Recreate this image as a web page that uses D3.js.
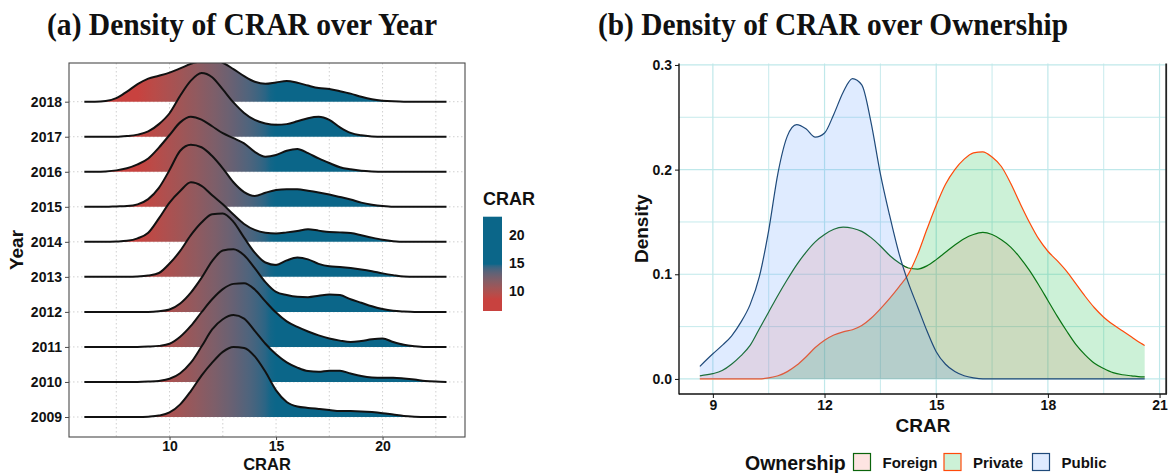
<!DOCTYPE html>
<meta charset="utf-8">
<title>Density of CRAR</title>
<script src="https://d3js.org/d3.v7.min.js"></script>
<style>
  body { margin: 0; background: #fff; }
  text { font-family: "Liberation Sans", Arial, sans-serif; font-weight: bold; fill: #111; }
  .title { font-family: "Liberation Serif", "Times New Roman", serif; }
</style>
<div id="chart"></div>
<script>

// ---------- data: panel (a), ridge heights in row units (1 = spacing between years) ----------
var years = [2009, 2010, 2011, 2012, 2013, 2014, 2015, 2016, 2017, 2018];
var ridgeGrid = [6, 6.5, 7, 7.5, 8, 8.5, 9, 9.5, 10, 10.5, 11, 11.5, 12, 12.5, 13, 13.5, 14, 14.5,
                 15, 15.5, 16, 16.5, 17, 17.5, 18, 18.5, 19, 19.5, 20, 20.5, 21, 21.5, 22, 22.5, 23];
var h2009 = [0,0,0,0,0,0,0.01,0.04,0.13,0.36,0.74,1.18,1.55,1.86,2.0,1.97,1.73,1.29,0.76,0.43,0.30,0.26,0.23,0.20,0.17,0.17,0.16,0.14,0.11,0.07,0.03,0.01,0,0,0];
var h2010 = [0,0,0,0,0,0,0.01,0.03,0.09,0.25,0.55,1.01,1.50,1.79,1.91,1.81,1.46,1.09,0.79,0.56,0.41,0.31,0.29,0.32,0.32,0.24,0.17,0.13,0.12,0.12,0.10,0.07,0.03,0.01,0];
var h2011 = [0,0,0,0,0,0,0.01,0.03,0.09,0.29,0.60,0.99,1.36,1.65,1.80,1.82,1.64,1.30,0.98,0.73,0.57,0.44,0.33,0.24,0.18,0.14,0.17,0.22,0.24,0.14,0.06,0.02,0,0,0];
var h2012 = [0,0,0,0,0,0,0,0.02,0.07,0.24,0.55,0.97,1.45,1.75,1.79,1.62,1.25,0.85,0.57,0.48,0.43,0.42,0.46,0.50,0.48,0.36,0.26,0.16,0.08,0.03,0.01,0,0,0,0];
var h2013 = [0,0,0,0,0,0.01,0.04,0.11,0.38,0.74,1.19,1.55,1.79,1.81,1.57,1.12,0.69,0.41,0.34,0.47,0.55,0.50,0.37,0.30,0.28,0.25,0.21,0.16,0.10,0.05,0.01,0,0,0,0];
var h2014 = [0,0,0,0.01,0.03,0.10,0.26,0.67,1.12,1.45,1.70,1.60,1.33,1.07,0.78,0.51,0.34,0.26,0.24,0.27,0.31,0.36,0.32,0.28,0.27,0.25,0.19,0.12,0.06,0.02,0,0,0,0,0];
var h2015 = [0,0,0,0.01,0.02,0.07,0.22,0.54,1.05,1.60,1.77,1.70,1.45,1.10,0.70,0.42,0.31,0.40,0.48,0.50,0.50,0.46,0.41,0.35,0.28,0.21,0.12,0.06,0.02,0,0,0,0,0,0];
var h2016 = [0,0,0.01,0.04,0.10,0.21,0.38,0.69,1.05,1.41,1.57,1.49,1.30,1.10,0.96,0.81,0.57,0.43,0.48,0.60,0.65,0.53,0.38,0.25,0.13,0.07,0.03,0.01,0,0,0,0,0,0,0];
var h2017 = [0,0,0,0,0.02,0.06,0.15,0.36,0.67,1.17,1.60,1.82,1.70,1.35,0.98,0.68,0.48,0.38,0.34,0.36,0.44,0.53,0.57,0.48,0.27,0.11,0.04,0.01,0,0,0,0,0,0,0];
var h2018 = [0,0,0.02,0.10,0.29,0.50,0.66,0.74,0.83,0.95,1.08,1.16,1.20,1.11,0.93,0.73,0.57,0.51,0.55,0.59,0.54,0.46,0.39,0.36,0.30,0.23,0.14,0.07,0.03,0.01,0,0,0,0,0];
var ridgeTicks = [10, 15, 20];
var colorbarTicks = [10, 15, 20];

// ---------- data: panel (b), densities ----------
var ownership = ["Foreign", "Private", "Public"];
var densGrid = [8.65, 9, 9.25, 9.5, 9.75, 10, 10.25, 10.5, 10.75, 11, 11.25, 11.5, 11.75, 12, 12.25, 12.5,
                12.75, 13, 13.25, 13.5, 13.75, 14, 14.25, 14.5, 14.75, 15, 15.25, 15.5, 15.75, 16, 16.25,
                16.5, 16.75, 17, 17.25, 17.5, 17.75, 18, 18.25, 18.5, 18.75, 19, 19.25, 19.5, 19.75, 20,
                20.25, 20.5, 20.6];
var foreignDens = [.003,.005,.008,.014,.022,.032,.048,.064,.080,.095,.109,.121,.131,.138,.143,.145,.144,.141,.135,.127,.118,.111,.106,.105,.108,.114,.121,.128,.134,.138,.140,.138,.133,.126,.116,.104,.090,.075,.060,.046,.033,.023,.015,.010,.006,.004,.003,.002,.002];
var privateDens = [0,0,0,0,0,0,0,.001,.003,.007,.013,.021,.030,.037,.042,.045,.047,.051,.058,.067,.077,.088,.100,.119,.143,.166,.186,.200,.210,.216,.217,.212,.203,.187,.168,.150,.134,.122,.113,.103,.091,.079,.068,.059,.052,.046,.040,.034,.032];
var publicDens = [.012,.024,.032,.041,.054,.071,.098,.142,.197,.232,.243,.239,.231,.235,.253,.274,.287,.281,.245,.196,.156,.120,.092,.069,.046,.026,.014,.007,.003,.001,0,0,0,0,0,0,0,0,0,0,0,0,0,0,0,0,0,0,0];
var densXTicks = [9, 12, 15, 18, 21];
var densYTicks = [0, 0.1, 0.2, 0.3];

var ridgeHeights = [h2009, h2010, h2011, h2012, h2013, h2014, h2015, h2016, h2017, h2018];
var densSeries = [foreignDens, privateDens, publicDens];
var fillColor = {Foreign: "#F8766D", Private: "#00BA38", Public: "#619CFF"};
var lineColor = {Foreign: "#0b640b", Private: "#ff4a0a", Public: "#1f4a7a"};

var svg = d3.select("#chart").append("svg")
    .attr("width", 1168)
    .attr("height", 473);

var defs = svg.append("defs");

// ---------- titles ----------
svg.append("text").attr("class", "title")
    .attr("x", 47).attr("y", 35)
    .attr("textLength", 390).attr("lengthAdjust", "spacingAndGlyphs")
    .style("font-size", "32px")
    .text("(a) Density of CRAR over Year");
svg.append("text").attr("class", "title")
    .attr("x", 598).attr("y", 35)
    .attr("textLength", 470).attr("lengthAdjust", "spacingAndGlyphs")
    .style("font-size", "32px")
    .text("(b) Density of CRAR over Ownership");

// =========================== PANEL (a) ===========================
var pa = {left: 69, right: 465, top: 63, bottom: 437};

var xA = d3.scaleLinear().domain([5.28, 23.87]).range([pa.left, pa.right]);
var yA = d3.scalePoint().domain(years).range([417, 101.7]);
var hA = d3.scaleLinear().domain([0, 1]).range([0, yA.step()]);

var crarColor = d3.scaleLinear()
    .domain([8.5, 14.8])
    .range(["#c8423f", "#0b6689"])
    .interpolate(d3.interpolateLab)
    .clamp(true);

// gradient along x for the ridge fill
var rg = defs.append("linearGradient")
    .attr("id", "ridgeGrad")
    .attr("gradientUnits", "userSpaceOnUse")
    .attr("x1", xA(6)).attr("x2", xA(23)).attr("y1", 0).attr("y2", 0);
d3.range(6, 23.01, 0.25).forEach(function(v){
  rg.append("stop").attr("offset", (v - 6) / 17).attr("stop-color", crarColor(v));
});

defs.append("clipPath").attr("id", "clipA")
  .append("rect")
    .attr("x", pa.left).attr("y", pa.top)
    .attr("width", pa.right - pa.left).attr("height", pa.bottom - pa.top);

// dotted grid
var gridA = svg.append("g");
gridA.selectAll("vline")
  .data(d3.range(7.5, 23, 2.5))
  .enter().append("line")
    .attr("x1", function(d){ return xA(d); })
    .attr("x2", function(d){ return xA(d); })
    .attr("y1", pa.top).attr("y2", pa.bottom)
    .attr("stroke", "#c4c4c4").attr("stroke-width", 0.8)
    .attr("stroke-dasharray", "1.5,2.5");
gridA.selectAll("hline")
  .data(years)
  .enter().append("line")
    .attr("x1", pa.left).attr("x2", pa.right)
    .attr("y1", function(d){ return yA(d); })
    .attr("y2", function(d){ return yA(d); })
    .attr("stroke", "#c4c4c4").attr("stroke-width", 0.8)
    .attr("stroke-dasharray", "1.5,2.5");

// ridges, top row first so the lower ones sit on top
var ridges = svg.append("g").attr("clip-path", "url(#clipA)");
years.slice().reverse().forEach(function(yr){
  var h = ridgeHeights[years.indexOf(yr)];
  var pts = ridgeGrid.map(function(v, i){ return [v, h[i]]; });
  var area = d3.area()
      .x(function(d){ return xA(d[0]); })
      .y0(yA(yr))
      .y1(function(d){ return yA(yr) - hA(d[1]); })
      .curve(d3.curveMonotoneX);
  var line = d3.line()
      .x(function(d){ return xA(d[0]); })
      .y(function(d){ return yA(yr) - hA(d[1]); })
      .curve(d3.curveMonotoneX);
  ridges.append("path").attr("d", area(pts)).attr("fill", "url(#ridgeGrad)");
  ridges.append("path").attr("d", line(pts))
      .attr("fill", "none").attr("stroke", "#111").attr("stroke-width", 2)
      .attr("stroke-linejoin", "round");
});

svg.append("rect")
    .attr("x", pa.left).attr("y", pa.top)
    .attr("width", pa.right - pa.left).attr("height", pa.bottom - pa.top)
    .attr("fill", "none").attr("stroke", "#4a4a4a").attr("stroke-width", 1.1);

// axes
var axYA = svg.append("g")
    .attr("transform", "translate(" + pa.left + ",0)")
    .call(d3.axisLeft(yA).tickSize(4).tickPadding(3));
var axXA = svg.append("g")
    .attr("transform", "translate(0," + pa.bottom + ")")
    .call(d3.axisBottom(xA).tickValues(ridgeTicks).tickSize(3).tickPadding(1));
[axYA, axXA].forEach(function(ax){
  ax.select(".domain").remove();
  ax.selectAll("line").attr("stroke", "#4a4a4a");
  ax.selectAll("text").attr("font-family", null).style("font-size", "14px").attr("fill", "#222");
});

svg.append("text")
    .attr("x", (pa.left + pa.right) / 2).attr("y", 469.5)
    .attr("text-anchor", "middle").style("font-size", "16.5px")
    .text("CRAR");
svg.append("text")
    .attr("transform", "translate(23," + (pa.top + pa.bottom) / 2 + ") rotate(-90)")
    .attr("text-anchor", "middle").style("font-size", "19px")
    .text("Year");

// colour bar legend
var cb = d3.scaleLinear().domain([6.4, 23.3]).range([311, 216.7]);
var cg = defs.append("linearGradient")
    .attr("id", "cbGrad")
    .attr("x1", 0).attr("x2", 0).attr("y1", 1).attr("y2", 0);
d3.range(6.4, 23.31, 0.2).forEach(function(v){
  cg.append("stop").attr("offset", (v - 6.4) / 16.9).attr("stop-color", crarColor(v));
});
svg.append("text").attr("x", 483).attr("y", 205).style("font-size", "18px").text("CRAR");
svg.append("rect")
    .attr("x", 483).attr("y", cb(23.3))
    .attr("width", 19).attr("height", cb(6.4) - cb(23.3))
    .attr("fill", "url(#cbGrad)");
svg.selectAll("cblab")
  .data(colorbarTicks)
  .enter().append("text")
    .attr("x", 509)
    .attr("y", function(d){ return cb(d); })
    .attr("dy", "0.35em")
    .style("font-size", "14px").attr("fill", "#222")
    .text(function(d){ return d; });

// =========================== PANEL (b) ===========================
var pb = {left: 679, right: 1167, top: 63.5, bottom: 394};

var xB = d3.scaleLinear().domain([8.09, 21.2]).range([pb.left, pb.right]);
var yB = d3.scaleLinear().domain([-0.0144, 0.3014]).range([pb.bottom, pb.top]);

var gridB = svg.append("g");
gridB.selectAll("vgrid")
  .data(d3.range(9, 21.01, 1.5))
  .enter().append("line")
    .attr("x1", function(d){ return xB(d); })
    .attr("x2", function(d){ return xB(d); })
    .attr("y1", pb.top).attr("y2", pb.bottom)
    .attr("stroke", "#bfe8ea")
    .attr("stroke-width", function(d){ return d % 3 === 0 ? 1.2 : 0.9; });
gridB.selectAll("hgrid")
  .data(d3.range(0, 0.301, 0.05))
  .enter().append("line")
    .attr("x1", pb.left).attr("x2", pb.right)
    .attr("y1", function(d){ return yB(d); })
    .attr("y2", function(d){ return yB(d); })
    .attr("stroke", "#bfe8ea")
    .attr("stroke-width", function(d, i){ return i % 2 === 0 ? 1.2 : 0.9; });

var densArea = d3.area()
    .x(function(d){ return xB(d[0]); })
    .y0(yB(0))
    .y1(function(d){ return yB(d[1]); })
    .curve(d3.curveMonotoneX);
var densLine = d3.line()
    .x(function(d){ return xB(d[0]); })
    .y(function(d){ return yB(d[1]); })
    .curve(d3.curveMonotoneX);

ownership.forEach(function(o, k){
  var pts = densGrid.map(function(v, i){ return [v, densSeries[k][i]]; });
  svg.append("path").attr("d", densArea(pts))
      .attr("fill", fillColor[o]).attr("fill-opacity", 0.2);
  svg.append("path").attr("d", densLine(pts))
      .attr("fill", "none").attr("stroke", lineColor[o]).attr("stroke-width", 1.2);
});

// axis lines
svg.append("line").attr("x1", pb.left).attr("x2", pb.left).attr("y1", pb.top).attr("y2", pb.bottom + 0.5)
    .attr("stroke", "#111").attr("stroke-width", 1.4);
svg.append("line").attr("x1", pb.left).attr("x2", pb.right).attr("y1", pb.bottom).attr("y2", pb.bottom)
    .attr("stroke", "#111").attr("stroke-width", 1.4);
svg.append("line").attr("x1", pb.right - 0.8).attr("x2", pb.right - 0.8).attr("y1", pb.top).attr("y2", pb.bottom)
    .attr("stroke", "#222").attr("stroke-width", 1.8);

var axYB = svg.append("g")
    .attr("transform", "translate(" + pb.left + ",0)")
    .call(d3.axisLeft(yB).tickValues(densYTicks).tickFormat(d3.format(".1f")).tickSize(4).tickPadding(3));
var axXB = svg.append("g")
    .attr("transform", "translate(0," + pb.bottom + ")")
    .call(d3.axisBottom(xB).tickValues(densXTicks).tickSize(4).tickPadding(2));
[axYB, axXB].forEach(function(ax){
  ax.select(".domain").remove();
  ax.selectAll("line").attr("stroke", "#111");
  ax.selectAll("text").attr("font-family", null).style("font-size", "14px").attr("fill", "#111");
});

svg.append("text")
    .attr("x", (pb.left + pb.right) / 2).attr("y", 432)
    .attr("text-anchor", "middle").style("font-size", "19px")
    .text("CRAR");
svg.append("text")
    .attr("transform", "translate(648," + (pb.top + pb.bottom) / 2 + ") rotate(-90)")
    .attr("text-anchor", "middle").style("font-size", "19px")
    .text("Density");

// ownership legend
svg.append("text").attr("x", 745).attr("y", 470).style("font-size", "19.5px").text("Ownership");
var keyX = [853.5, 944, 1032.5];
ownership.forEach(function(o, k){
  svg.append("rect")
      .attr("x", keyX[k]).attr("y", 453.5)
      .attr("width", 17).attr("height", 17)
      .attr("fill", d3.interpolateRgb("#ffffff", fillColor[o])(0.2))
      .attr("stroke", lineColor[o]).attr("stroke-width", 1.2);
  svg.append("text")
      .attr("x", keyX[k] + 29).attr("y", 467.5)
      .style("font-size", "15px")
      .text(o);
});

</script>
